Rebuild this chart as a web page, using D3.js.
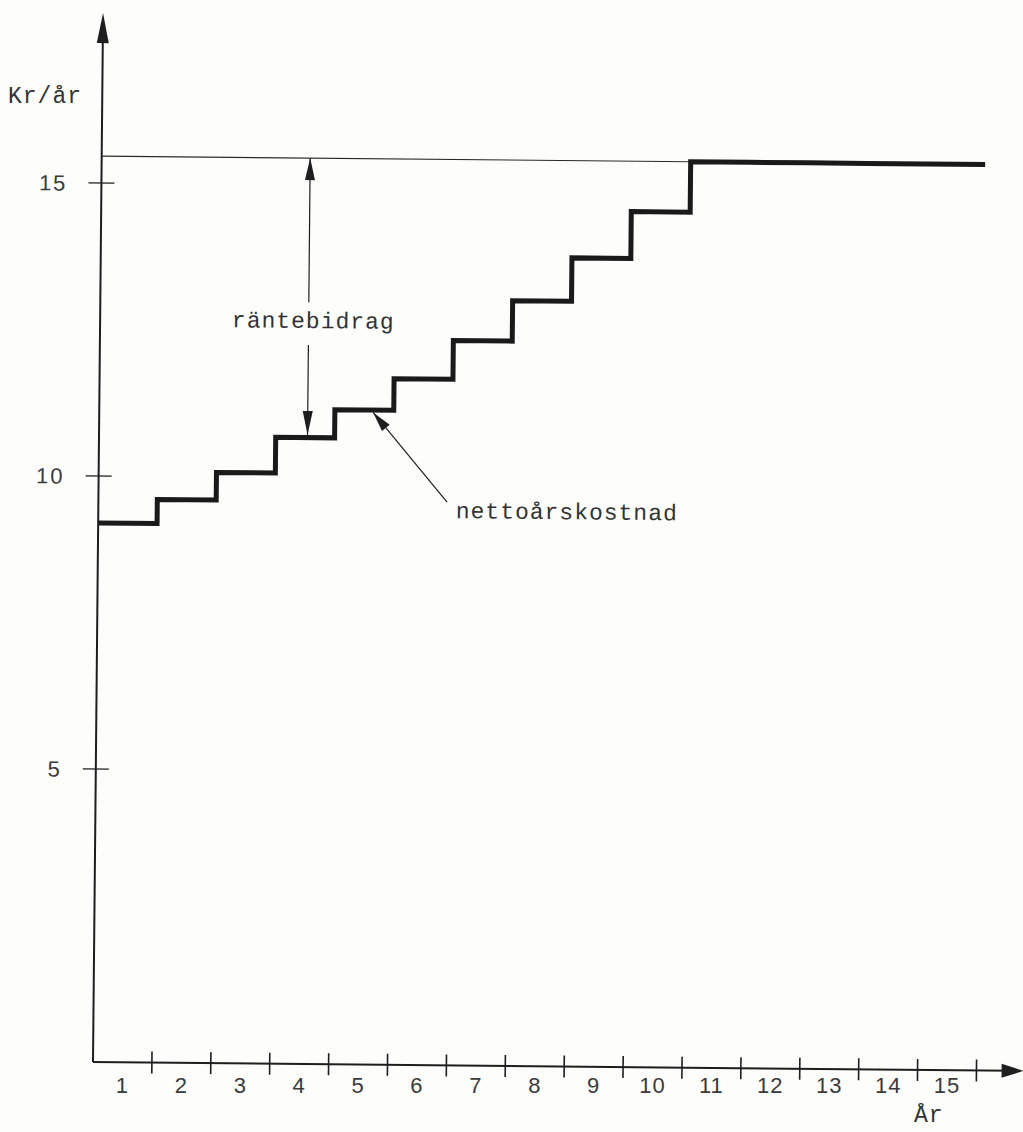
<!DOCTYPE html>
<html>
<head>
<meta charset="utf-8">
<script src="https://cdn.jsdelivr.net/npm/d3@7/dist/d3.min.js"></script>
<style>
  html, body { margin: 0; padding: 0; background: #fdfdfc; }
  svg { display: block; }
  .mono { font-family: "Liberation Mono", "DejaVu Sans Mono", monospace; font-size: 23px; letter-spacing: 1px; fill: #333; }
  .num { font-family: "Liberation Sans", Arial, sans-serif; font-size: 22px; fill: #3a3a3a; }
</style>
</head>
<body>
<script>
// ---- data ----
const years = [1, 2, 3, 4, 5, 6, 7, 8, 9, 10, 11, 12, 13, 14, 15];
const xTickLabels = ["1", "2", "3", "4", "5", "6", "7", "8", "9", "10", "11", "12", "13", "14", "15"];
const netCost = [9.20, 9.61, 10.08, 10.69, 11.17, 11.71, 12.37, 13.06, 13.80, 14.60, 15.46, 15.46, 15.46, 15.46, 15.46];
const grossLevel = [15.46];          // thin reference line level (years 0-10)
const grossSpan = [0, 10];
const yTicks = [5, 10, 15];
const yLabels = ["5", "10", "15"];
const yAxisTitle = "Kr/år";
const xAxisTitle = "År";
const rateLabel = "räntebidrag";
const netLabel = "nettoårskostnad";

// ---- layout ----
const W = 1023, H = 1132;
const svg = d3.select("body").append("svg").attr("width", W).attr("height", H);

const x = d3.scaleLinear().domain([0, 15]).range([0, 883.5]);
const y = d3.scaleLinear().domain([0, 15]).range([0, -879]);

const g = svg.append("g").attr("transform", "translate(93,1062) rotate(0.55)");
const ink = "#1e1e1e";

// arrowhead helper (pixel space)
function head(tip, from, len, half) {
  const dx = tip[0] - from[0], dy = tip[1] - from[1];
  const L = Math.hypot(dx, dy), ux = dx / L, uy = dy / L;
  const bx = tip[0] - ux * len, by = tip[1] - uy * len;
  return [tip, [bx - uy * half, by + ux * half], [bx + uy * half, by - ux * half]];
}
function poly(pts) { return "M" + pts.map(p => p.join(",")).join("L") + "Z"; }

// y axis
const yTop = 17.9;
g.append("line").attr("x1", 0).attr("y1", 0).attr("x2", 0).attr("y2", y(yTop) + 10)
  .attr("stroke", ink).attr("stroke-width", 2);
g.append("path").attr("d", poly(head([0, y(yTop)], [0, 0], 30, 6))).attr("fill", ink);

// x axis
const xEnd = 15.8;
g.append("line").attr("x1", 0).attr("y1", 0).attr("x2", x(xEnd) - 10).attr("y2", 0)
  .attr("stroke", ink).attr("stroke-width", 2);
g.append("path").attr("d", poly(head([x(xEnd), 0], [0, 0], 22, 7))).attr("fill", ink);

// x ticks (crossing) at year boundaries
g.selectAll(".xt").data(years).enter().append("line")
  .attr("x1", d => x(d)).attr("x2", d => x(d))
  .attr("y1", -11).attr("y2", 11)
  .attr("stroke", ink).attr("stroke-width", 1.6);

// y ticks (crossing)
g.selectAll(".yt").data(yTicks).enter().append("line")
  .attr("x1", -13).attr("x2", 13)
  .attr("y1", d => y(d)).attr("y2", d => y(d))
  .attr("stroke", ink).attr("stroke-width", 1.4);

// y tick labels
g.selectAll(".yl").data(yTicks).enter().append("text")
  .attr("class", "num")
  .attr("x", -34).attr("y", d => y(d)).attr("dy", "0.36em")
  .attr("text-anchor", "end").style("letter-spacing", "2px")
  .text((d, i) => yLabels[i]);

// x tick labels (typed on a horizontal row)
svg.selectAll(".xl").data(years).enter().append("text")
  .attr("class", "num")
  .attr("x", d => 93 + x(d - 0.5)).attr("y", 1093)
  .attr("text-anchor", "middle").style("letter-spacing", "1px")
  .text((d, i) => xTickLabels[i]);

// reference (gross) line
g.append("line")
  .attr("x1", x(grossSpan[0])).attr("x2", x(grossSpan[1]))
  .attr("y1", y(grossLevel[0])).attr("y2", y(grossLevel[0]))
  .attr("stroke", "#2a2a2a").attr("stroke-width", 1.2);

// step line (net annual cost)
const stepPts = years.map((yr, i) => [yr - 1, netCost[i]]);
stepPts.push([years[years.length - 1], netCost[netCost.length - 1]]);
const stepLine = d3.line().x(d => x(d[0])).y(d => y(d[1])).curve(d3.curveStepAfter);
g.append("path").attr("d", stepLine(stepPts))
  .attr("fill", "none").attr("stroke", "#1a1a1a").attr("stroke-width", 5)
  .attr("stroke-linejoin", "miter");

// räntebidrag double arrow
const ax = 3.54;
const topV = grossLevel[0], botV = netCost[3] + 0.045;
const gapTop = 13.0, gapBot = 12.27;
g.append("line").attr("x1", x(ax)).attr("x2", x(ax)).attr("y1", y(topV)).attr("y2", y(gapTop))
  .attr("stroke", ink).attr("stroke-width", 1.2);
g.append("line").attr("x1", x(ax)).attr("x2", x(ax)).attr("y1", y(gapBot)).attr("y2", y(botV))
  .attr("stroke", ink).attr("stroke-width", 1.2);
g.append("path").attr("d", poly(head([x(ax), y(topV)], [x(ax), y(gapTop)], 22, 5))).attr("fill", ink);
g.append("path").attr("d", poly(head([x(ax), y(botV)], [x(ax), y(gapBot)], 24, 5))).attr("fill", ink);
g.append("text").attr("class", "mono")
  .attr("x", x(3.62)).attr("y", y(12.56)).attr("text-anchor", "middle")
  .text(rateLabel);

// nettoårskostnad pointer
const tip = [x(4.65), y(11.13)], tail = [x(5.92), y(9.61)];
g.append("line").attr("x1", tail[0]).attr("y1", tail[1]).attr("x2", tip[0]).attr("y2", tip[1])
  .attr("stroke", ink).attr("stroke-width", 1.2);
g.append("path").attr("d", poly(head(tip, tail, 20, 5))).attr("fill", ink);
g.append("text").attr("class", "mono")
  .attr("x", x(6.07)).attr("y", y(9.34))
  .text(netLabel);

// axis titles
svg.append("text").attr("class", "mono").attr("x", 8).attr("y", 103).text(yAxisTitle);
svg.append("text").attr("class", "mono").attr("x", 914).attr("y", 1122).text(xAxisTitle);
</script>
</body>
</html>
